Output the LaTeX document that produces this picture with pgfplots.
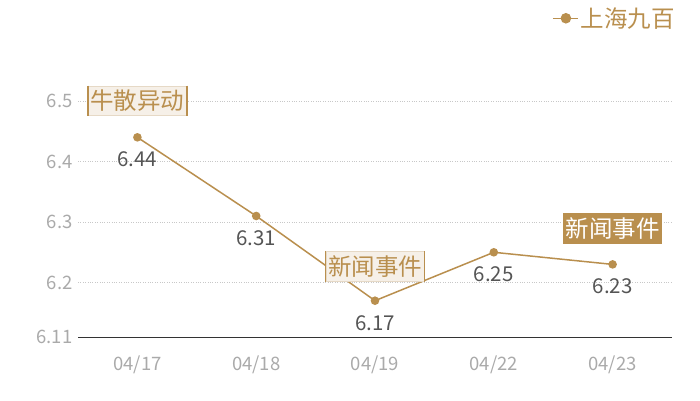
\documentclass[border=0pt]{standalone}
\usepackage{pgfplots}
\pgfplotsset{compat=1.18}
\usepackage{fontspec}
\setmainfont{Noto Sans CJK SC}
\definecolor{gold}{HTML}{B98F4E}
\definecolor{lightfill}{HTML}{F6F0E8}
\definecolor{lightborder}{HTML}{E6D9C6}
\definecolor{ticktext}{HTML}{AAAAAA}
\definecolor{valtext}{HTML}{555555}
\definecolor{gridc}{HTML}{C8C8C8}
\begin{document}
\begin{tikzpicture}[x=1pt,y=1pt]
\useasboundingbox (0,0) rectangle (700,400);
\begin{axis}[
  at={(78pt,63pt)}, anchor=south west,
  scale only axis, width=594pt, height=296.5pt,
  xmin=-0.5, xmax=4.5, ymin=6.11, ymax=6.6,
  axis lines=left,
  x axis line style={draw=black!80, line width=1pt, -},
  y axis line style={draw=none},
  major tick length=0pt,
  xtick={0,1,2,3,4},
  xticklabels={04/17,04/18,04/19,04/22,04/23},
  ytick={6.11,6.2,6.3,6.4,6.5},
  yticklabels={6.11,6.2,6.3,6.4,6.5},
  ymajorgrids,
  grid style={gridc, dotted, line width=0.6pt},
  ticklabel style={font=\fontsize{18.5}{22}\selectfont, text=ticktext},
  xticklabel style={yshift=-15pt},
  yticklabel style={xshift=-2pt},
  clip=false,
  legend style={at={(1.013,1.125)}, anchor=north east, draw=none, fill=none,
    font=\fontsize{23.5}{28}\selectfont, text=gold, legend cell align=left},
  legend image code/.code={\draw[gold, line width=1.2pt] (-4pt,0pt) -- (21pt,0pt); \fill[gold] (9pt,0pt) circle (4.5pt);},
]
\addplot[gold, line width=1.5pt, mark=*, mark size=3.5pt, mark options={fill=gold, draw=gold},
  nodes near coords, point meta=explicit symbolic,
  every node near coord/.style={anchor=center, yshift=-22pt, font=\fontsize{20.5}{24}\selectfont, text=valtext}]
  coordinates {(0,6.44) [6.44] (1,6.31) [6.31] (2,6.17) [6.17] (3,6.25) [6.25] (4,6.23) [6.23]};
\addlegendentry{上海九百}
\node[fill=lightfill, draw=lightborder, line width=1pt, inner xsep=2pt, inner ysep=4pt, text=gold, font=\fontsize{23.5}{28}\selectfont] (a) at (axis cs:0,6.5) {牛散异动};
\draw[gold, line width=1.2pt] (a.north west) -- (a.south west) (a.north east) -- (a.south east);
\node[fill=lightfill, draw=lightborder, line width=1pt, inner xsep=2pt, inner ysep=4pt, text=gold, font=\fontsize{23.5}{28}\selectfont] (b) at (axis cs:2,6.227) {新闻事件};
\draw[gold, line width=1.2pt] (b.north west) -- (b.south west) (b.north east) -- (b.south east);
\node[fill=gold, inner xsep=2.5pt, inner ysep=4.5pt, text=white, font=\fontsize{23.5}{28}\selectfont] at (axis cs:4,6.289) {新闻事件};
\end{axis}
\end{tikzpicture}
\end{document}
